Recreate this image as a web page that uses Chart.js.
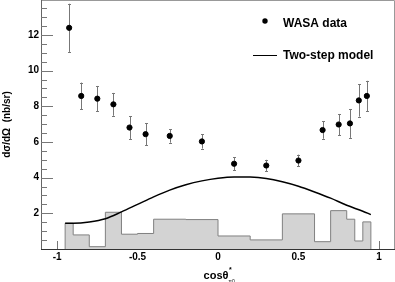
<!DOCTYPE html>
<html>
<head>
<meta charset="utf-8">
<script src="https://cdn.jsdelivr.net/npm/chart.js@4"></script>
<style>
  html, body { margin: 0; padding: 0; background: #fff; }
  #wrap { width: 395px; height: 282px; }
</style>
</head>
<body>
<div id="wrap"><canvas id="xsChart"></canvas></div>
<script>
// WASA data points
const dataX   = [-0.925, -0.85, -0.75, -0.65, -0.55, -0.45, -0.3, -0.1, 0.1, 0.3, 0.5, 0.65, 0.75, 0.82, 0.875, 0.925];
const dataY   = [12.4, 8.58, 8.43, 8.11, 6.81, 6.44, 6.34, 6.03, 4.78, 4.68, 4.96, 6.67, 6.98, 7.04, 8.33, 8.58];
const dataErr = [1.35, 0.75, 0.71, 0.64, 0.64, 0.62, 0.38, 0.40, 0.35, 0.32, 0.33, 0.49, 0.59, 0.81, 0.91, 0.85];

// two-step model curve
const modelX = [-0.95, -0.9, -0.8, -0.7, -0.6, -0.5, -0.4, -0.3, -0.2, -0.1, 0, 0.1, 0.2, 0.3, 0.4, 0.5, 0.6, 0.7, 0.8, 0.9, 0.95];
const modelY = [1.45, 1.45, 1.52, 1.70, 2.08, 2.5, 2.92, 3.3, 3.6, 3.82, 3.97, 4.04, 4.03, 3.95, 3.77, 3.52, 3.2, 2.85, 2.45, 2.12, 1.93];

// grey histogram (bin edges + contents)
const histEdges  = [-0.95, -0.9, -0.8, -0.7, -0.6, -0.5, -0.4, -0.2, 0, 0.2, 0.4, 0.6, 0.7, 0.8, 0.85, 0.9, 0.95];
const histValues = [1.44, 0.79, 0.13, 2.06, 0.83, 0.87, 1.67, 1.65, 0.73, 0.51, 1.97, 0.41, 2.15, 1.67, 0.45, 1.52];

const xTicks = [-1, -0.5, 0, 0.5, 1];
const yTicks = [2, 4, 6, 8, 10, 12];

const FONT = '"Liberation Sans", Arial, sans-serif';

const points = dataX.map((x, i) => ({ x: x, y: dataY[i] }));
const model = modelX.map((x, i) => ({ x: x, y: modelY[i] }));
const hist = [{ x: histEdges[0], y: 0 }]
  .concat(histValues.map((v, i) => ({ x: histEdges[i], y: v })))
  .concat([{ x: histEdges[histEdges.length - 1], y: 0 }]);

// frame + inward ticks (ROOT style)
const framePlugin = {
  id: "frame",
  beforeDatasetsDraw(chart) {
    const { ctx, chartArea: a, scales: { x, y } } = chart;
    ctx.save();
    ctx.lineWidth = 1;
    ctx.strokeStyle = "#999";
    ctx.beginPath();
    ctx.moveTo(a.left, a.top + 0.5);
    ctx.lineTo(a.right - 0.5, a.top + 0.5);
    ctx.lineTo(a.right - 0.5, a.bottom);
    ctx.stroke();

    ctx.strokeStyle = "#666";
    ctx.beginPath();
    ctx.moveTo(a.left + 0.5, a.top);
    ctx.lineTo(a.left + 0.5, a.bottom);
    ctx.stroke();
    ctx.strokeStyle = "#333";
    ctx.beginPath();
    ctx.moveTo(a.left, a.bottom + 0.5);
    ctx.lineTo(a.right, a.bottom + 0.5);
    ctx.stroke();

    ctx.strokeStyle = "#777";
    ctx.beginPath();
    for (let v = 0.5; v < y.max; v += 0.5) {
      const py = Math.round(y.getPixelForValue(v)) + 0.5;
      const len = (v % 2 === 0) ? 12 : 6;
      ctx.moveTo(a.left, py);
      ctx.lineTo(a.left + len, py);
    }
    xTicks.forEach(v => {
      const px = Math.round(x.getPixelForValue(v)) + 0.5;
      ctx.moveTo(px, a.bottom);
      ctx.lineTo(px, a.bottom - 8);
    });
    ctx.stroke();
    ctx.restore();
  },
  beforeDatasetDraw(chart, args) {
    if (args.index !== 0) return;
    const { ctx, scales: { x, y } } = chart;
    ctx.save();
    ctx.strokeStyle = "#777";
    ctx.lineWidth = 1;
    ctx.beginPath();
    dataX.forEach((v, i) => {
      const px = Math.round(x.getPixelForValue(v)) + 0.5;
      const top = y.getPixelForValue(dataY[i] + dataErr[i]);
      const bot = y.getPixelForValue(dataY[i] - dataErr[i]);
      ctx.moveTo(px, top);
      ctx.lineTo(px, bot);
      ctx.moveTo(px - 1.5, Math.round(top) + 0.5);
      ctx.lineTo(px + 1.5, Math.round(top) + 0.5);
      ctx.moveTo(px - 1.5, Math.round(bot) + 0.5);
      ctx.lineTo(px + 1.5, Math.round(bot) + 0.5);
    });
    ctx.stroke();
    ctx.restore();
  },
  afterDraw(chart) {
    const { ctx, chartArea: a } = chart;
    ctx.save();
    ctx.fillStyle = "#000";
    ctx.textBaseline = "alphabetic";

    // legend
    ctx.beginPath();
    ctx.arc(265, 21, 2.7, 0, Math.PI * 2);
    ctx.fill();
    ctx.strokeStyle = "#000";
    ctx.lineWidth = 1;
    ctx.beginPath();
    ctx.moveTo(253, 55.5);
    ctx.lineTo(277, 55.5);
    ctx.stroke();
    ctx.font = "bold 12px " + FONT;
    ctx.fillText("WASA data", 283, 27);
    ctx.fillText("Two-step model", 283, 59);

    // x axis title: cos theta* (pi0)
    ctx.font = "bold 11px " + FONT;
    const main = "cosθ";
    const w = ctx.measureText(main).width;
    const x0 = (a.left + a.right) / 2 - (w + 4) / 2;
    ctx.fillText(main, x0, 279);
    ctx.font = "bold 7px " + FONT;
    ctx.fillText("*", x0 + w + 0.5, 272);
    ctx.font = "5px " + FONT;
    ctx.fillText("π0", x0 + w, 283);
    ctx.restore();
  }
};

new Chart(document.getElementById("xsChart"), {
  type: "scatter",
  data: {
    datasets: [
      {
        type: "scatter",
        data: points,
        backgroundColor: "#000",
        borderColor: "#000",
        pointRadius: 2.6,
        pointHoverRadius: 2.6
      },
      {
        type: "line",
        data: model,
        borderColor: "#000",
        borderWidth: 1.5,
        pointRadius: 0,
        cubicInterpolationMode: "monotone",
        fill: false
      },
      {
        type: "line",
        data: hist,
        stepped: true,
        borderColor: "#808080",
        borderWidth: 1,
        backgroundColor: "#d3d3d3",
        pointRadius: 0,
        fill: "origin"
      }
    ]
  },
  options: {
    responsive: true,
    maintainAspectRatio: false,
    animation: false,
    events: [],
    layout: { padding: 0, autoPadding: false },
    plugins: { legend: { display: false }, tooltip: { enabled: false } },
    scales: {
      x: {
        type: "linear",
        min: -1.1,
        max: 1.1,
        grid: { display: false, drawTicks: false },
        border: { display: false },
        afterBuildTicks: s => { s.ticks = xTicks.map(v => ({ value: v })); },
        afterFit: s => { s.height = 33; s.paddingLeft = 0; s.paddingRight = 0; },
        ticks: {
          padding: 2,
          color: "#000",
          font: { family: FONT, size: 10, weight: "bold" },
          callback: v => String(v),
          maxRotation: 0
        }
      },
      y: {
        type: "linear",
        min: 0,
        max: 13.96,
        grid: { display: false, drawTicks: false },
        border: { display: false },
        afterBuildTicks: s => { s.ticks = yTicks.map(v => ({ value: v })); },
        afterFit: s => { s.width = 41; s.paddingTop = 0; s.paddingBottom = 0; },
        title: {
          display: true,
          text: "dσ/dΩ  (nb/sr)",
          color: "#000",
          padding: { top: 1, bottom: 0 },
          font: { family: FONT, size: 10, weight: "bold" }
        },
        ticks: {
          padding: 2,
          color: "#000",
          font: { family: FONT, size: 10, weight: "bold" },
          callback: v => String(v)
        }
      }
    }
  },
  plugins: [framePlugin]
});
</script>
</body>
</html>
